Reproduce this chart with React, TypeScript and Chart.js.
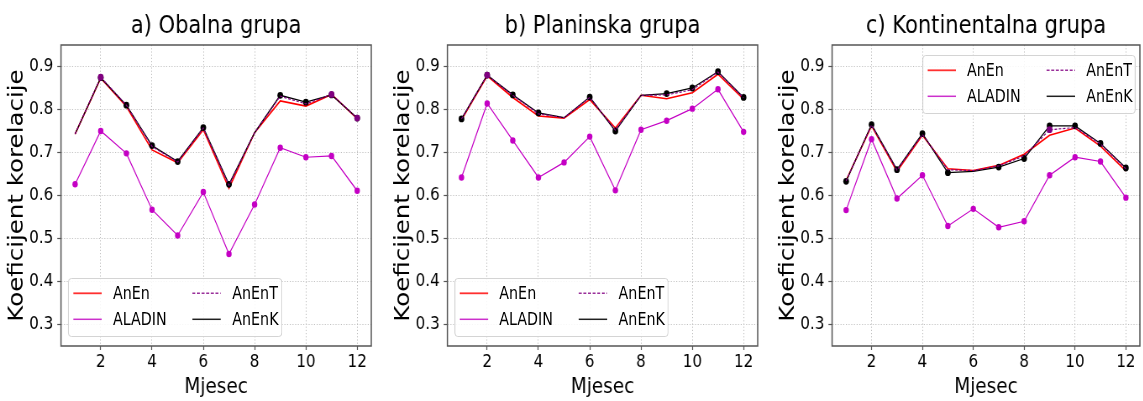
import React, { useEffect, useRef } from 'react';
import { Chart, registerables } from 'chart.js';

Chart.register(...registerables);

// ---------- data ----------
const months = [1, 2, 3, 4, 5, 6, 7, 8, 9, 10, 11, 12];
const xTickValues = [2, 4, 6, 8, 10, 12];
const yTickValues = [0.3, 0.4, 0.5, 0.6, 0.7, 0.8, 0.9];
const seriesNames = ['AnEn', 'ALADIN', 'AnEnT', 'AnEnK'];
const panelTitles = ['a) Obalna grupa', 'b) Planinska grupa', 'c) Kontinentalna grupa'];
const xAxisLabel = 'Mjesec';
const yAxisLabel = 'Koeficijent korelacije';

// a) Obalna grupa
const aAnEn = [0.743, 0.873, 0.807, 0.706, 0.676, 0.753, 0.617, 0.746, 0.820, 0.808, 0.835, 0.779];
const aALADIN = [0.626, 0.750, 0.698, 0.567, 0.507, 0.608, 0.464, 0.579, 0.711, 0.689, 0.692, 0.611];
const aAnEnT = [0.743, 0.875, 0.810, 0.714, 0.678, 0.757, 0.624, 0.746, 0.831, 0.813, 0.835, 0.780];
const aAnEnK = [0.743, 0.874, 0.810, 0.716, 0.679, 0.758, 0.626, 0.746, 0.833, 0.817, 0.834, 0.780];
const aMarksK = [0, 1, 1, 1, 1, 1, 1, 0, 1, 1, 1, 1];
const aMarksT = [0, 1, 0, 0, 0, 0, 0, 0, 0, 0, 1, 1];

// b) Planinska grupa
const bAnEn = [0.776, 0.878, 0.828, 0.785, 0.780, 0.823, 0.757, 0.833, 0.825, 0.839, 0.882, 0.824];
const bALADIN = [0.642, 0.814, 0.728, 0.642, 0.677, 0.737, 0.612, 0.753, 0.774, 0.802, 0.847, 0.748];
const bAnEnT = [0.778, 0.880, 0.833, 0.790, 0.781, 0.828, 0.752, 0.833, 0.834, 0.846, 0.887, 0.827];
const bAnEnK = [0.778, 0.880, 0.834, 0.792, 0.781, 0.829, 0.750, 0.833, 0.837, 0.850, 0.888, 0.828];
const bMarksK = [1, 1, 1, 1, 0, 1, 1, 0, 1, 1, 1, 1];
const bMarksT = [0, 1, 0, 0, 0, 0, 0, 0, 0, 0, 0, 0];

// c) Kontinentalna grupa
const cAnEn = [0.635, 0.762, 0.656, 0.740, 0.662, 0.658, 0.670, 0.696, 0.740, 0.757, 0.715, 0.657];
const cALADIN = [0.566, 0.731, 0.593, 0.647, 0.529, 0.569, 0.526, 0.540, 0.647, 0.689, 0.679, 0.595];
const cAnEnT = [0.634, 0.764, 0.659, 0.742, 0.660, 0.658, 0.669, 0.692, 0.753, 0.758, 0.720, 0.662];
const cAnEnK = [0.633, 0.765, 0.660, 0.744, 0.653, 0.656, 0.666, 0.686, 0.762, 0.762, 0.721, 0.664];
const cMarksK = [1, 1, 1, 1, 1, 0, 1, 1, 1, 1, 1, 1];
const cMarksT = [0, 0, 0, 0, 0, 0, 0, 0, 1, 0, 0, 0];

// ---------- styling / layout ----------
const S = 0.84; // horizontal squeeze of the reference rendering
const LW = 1143 / S;
const FONT = '"DejaVu Sans", sans-serif';
const RED = '#ff0000';
const MAG = '#c400c4';
const PURPLE = '#800080';
const BLACK = '#000000';

type PanelSpec = {
  title: string;
  anen: number[];
  aladin: number[];
  anent: number[];
  anenk: number[];
  marksK: number[];
  marksT: number[];
  canvasLeft: number;
  canvasWidth: number;
  padRight: number;
  legend: { left: number; top: number };
};

const YW = 72.6;
const CHART_TOP = 45;
const XH = 55;

const panels: PanelSpec[] = [
  {
    title: panelTitles[0], anen: aAnEn, aladin: aALADIN, anent: aAnEnT, anenk: aAnEnK,
    marksK: aMarksK, marksT: aMarksT,
    canvasLeft: 0, canvasWidth: 446, padRight: 446 - (372 / S - 0),
    legend: { left: 61 / S + 8.3, top: 278 },
  },
  {
    title: panelTitles[1], anen: bAnEn, aladin: bALADIN, anent: bAnEnT, anenk: bAnEnK,
    marksK: bMarksK, marksT: bMarksT,
    canvasLeft: 447.3 / S - YW, canvasWidth: 446, padRight: 446 - (758 / S - (447.3 / S - YW)),
    legend: { left: 447.3 / S + 8.3, top: 278 },
  },
  {
    title: panelTitles[2], anen: cAnEn, aladin: cALADIN, anent: cAnEnT, anenk: cAnEnK,
    marksK: cMarksK, marksT: cMarksT,
    canvasLeft: 832.3 / S - YW, canvasWidth: 443, padRight: 443 - (1142 / S - (832.3 / S - YW)),
    legend: { left: 1142 / S - 7.1 - 254.8, top: 55 },
  },
];

const framePlugin = {
  id: 'frame',
  afterDatasetsDraw(chart: any) {
    const { ctx, chartArea } = chart;
    ctx.save();
    ctx.strokeStyle = '#555555';
    ctx.lineWidth = 1.5;
    ctx.strokeRect(chartArea.left, chartArea.top, chartArea.right - chartArea.left, chartArea.bottom - chartArea.top);
    ctx.restore();
  },
};

const makeTitlePlugin = (text: string) => ({
  id: 'panelTitle',
  afterDraw(chart: any) {
    const { ctx, chartArea } = chart;
    ctx.save();
    ctx.font = `25px ${FONT}`;
    ctx.fillStyle = '#000';
    ctx.textAlign = 'center';
    ctx.textBaseline = 'alphabetic';
    ctx.fillText(text, (chartArea.left + chartArea.right) / 2, 33);
    ctx.restore();
  },
});

function toPoints(vals: number[]) {
  return months.map((m, i) => ({ x: m, y: vals[i] }));
}

function PanelChart({ spec }: { spec: PanelSpec }) {
  const ref = useRef<HTMLCanvasElement | null>(null);
  useEffect(() => {
    if (!ref.current) return;
    const datasets: any[] = [
      {
        label: seriesNames[0], data: toPoints(spec.anen), borderColor: RED, backgroundColor: RED,
        borderWidth: 1.6, pointRadius: 0, tension: 0, order: 3,
      },
      {
        label: seriesNames[1], data: toPoints(spec.aladin), borderColor: MAG, backgroundColor: MAG,
        borderWidth: 1.2, pointRadius: 3.2, pointBorderWidth: 0, pointBackgroundColor: MAG, tension: 0, order: 4,
      },
      {
        label: seriesNames[3], data: toPoints(spec.anenk), borderColor: BLACK, backgroundColor: BLACK,
        borderWidth: 1.3, pointRadius: spec.marksK.map((v) => (v ? 3.4 : 0)), pointBorderWidth: 0,
        pointBackgroundColor: BLACK, tension: 0, order: 2,
      },
      {
        label: seriesNames[2], data: toPoints(spec.anent), borderColor: PURPLE, backgroundColor: PURPLE,
        borderWidth: 1.2, borderDash: [3, 2], pointRadius: spec.marksT.map((v) => (v ? 3.4 : 0)), pointBorderWidth: 0,
        pointBackgroundColor: PURPLE, tension: 0, order: 1,
      },
    ];
    const chart = new Chart(ref.current, {
      type: 'line',
      data: { datasets },
      options: {
        animation: false,
        responsive: false,
        maintainAspectRatio: false,
        events: [],
        layout: { padding: { top: CHART_TOP, right: spec.padRight, bottom: 0, left: 0 } },
        plugins: { legend: { display: false }, tooltip: { enabled: false }, title: { display: false } },
        scales: {
          x: {
            type: 'linear',
            min: 0.45,
            max: 12.55,
            afterFit: (s: any) => { s.height = XH; },
            afterBuildTicks: (s: any) => { s.ticks = xTickValues.map((v) => ({ value: v })); },
            ticks: {
              font: { family: FONT, size: 18 }, color: '#000', padding: 2, maxRotation: 0, autoSkip: false,
              callback: (v: any) => String(v),
            },
            grid: { color: '#b8b8b8', lineWidth: 0.9, tickColor: '#555', tickLength: 4, tickWidth: 1.2 },
            border: { display: false, dash: [1.2, 2] },
            title: { display: true, text: xAxisLabel, font: { family: FONT, size: 22 }, color: '#000', padding: { top: 0, bottom: 1 } },
          },
          y: {
            type: 'linear',
            min: 0.25,
            max: 0.95,
            afterFit: (s: any) => { s.width = YW; },
            afterBuildTicks: (s: any) => { s.ticks = yTickValues.map((v) => ({ value: v })); },
            ticks: {
              font: { family: FONT, size: 18 }, color: '#000', padding: 4.7, autoSkip: false,
              callback: (v: any) => Number(v).toFixed(1),
            },
            grid: { color: '#b8b8b8', lineWidth: 0.9, tickColor: '#555', tickLength: 4.4, tickWidth: 1.2 },
            border: { display: false, dash: [1.2, 2] },
            title: { display: true, text: yAxisLabel, font: { family: FONT, size: 24.5 }, color: '#000', padding: { top: 6.4, bottom: 0 } },
          },
        },
      } as any,
      plugins: [framePlugin, makeTitlePlugin(spec.title)],
    });
    return () => chart.destroy();
  }, [spec]);
  return (
    <canvas
      ref={ref}
      width={spec.canvasWidth}
      height={401}
      style={{ position: 'absolute', left: spec.canvasLeft, top: 0, width: spec.canvasWidth, height: 401 }}
    />
  );
}

const legendItems = [
  { name: seriesNames[0], color: '#ff3030', dash: false, col: 0, row: 0, w: 1.8 },
  { name: seriesNames[1], color: '#cc30cc', dash: false, col: 0, row: 1, w: 1.5 },
  { name: seriesNames[2], color: '#9a309a', dash: true, col: 1, row: 0, w: 1.4 },
  { name: seriesNames[3], color: '#202020', dash: false, col: 1, row: 1, w: 1.5 },
];

function Legend({ left, top }: { left: number; top: number }) {
  const lineStarts = [6.3, 148];
  const textStarts = [53.6, 195.6];
  const rowCenters = [15.3, 41.3];
  return (
    <div
      style={{
        position: 'absolute', left, top, width: 254.8, height: 59, boxSizing: 'border-box',
        border: '1px solid #d0d0d0', borderRadius: 4, background: 'rgba(255,255,255,0.85)',
      }}
    >
      <svg
        width={254.8}
        height={59}
        style={{ position: 'absolute', left: -1, top: -1, overflow: 'visible' }}
      >
        {legendItems.map((it) => (
          <line
            key={it.name + '-h'}
            x1={lineStarts[it.col]}
            x2={lineStarts[it.col] + 33.8}
            y1={rowCenters[it.row]}
            y2={rowCenters[it.row]}
            stroke={it.color}
            strokeWidth={it.w}
            strokeDasharray={it.dash ? '3.5 2' : undefined}
          />
        ))}
      </svg>
      {legendItems.map((it) => (
        <div
          key={it.name}
          style={{
            position: 'absolute', left: textStarts[it.col] - 1, top: rowCenters[it.row] - 11 - 1,
            height: 22, lineHeight: '22px', fontFamily: FONT, fontSize: 17, color: '#000', whiteSpace: 'nowrap',
          }}
        >
          {it.name}
        </div>
      ))}
    </div>
  );
}

export default function App() {
  return (
    <div style={{ position: 'absolute', left: 0, top: 0, width: 1143, height: 401, overflow: 'hidden', background: '#fff' }}>
      <div
        style={{
          position: 'absolute', left: 0, top: 0, width: LW, height: 401,
          transform: `scaleX(${S})`, transformOrigin: '0 0',
        }}
      >
        {panels.map((p) => (
          <PanelChart key={p.title} spec={p} />
        ))}
        {panels.map((p) => (
          <Legend key={p.title + '-legend'} left={p.legend.left} top={p.legend.top} />
        ))}
      </div>
    </div>
  );
}
